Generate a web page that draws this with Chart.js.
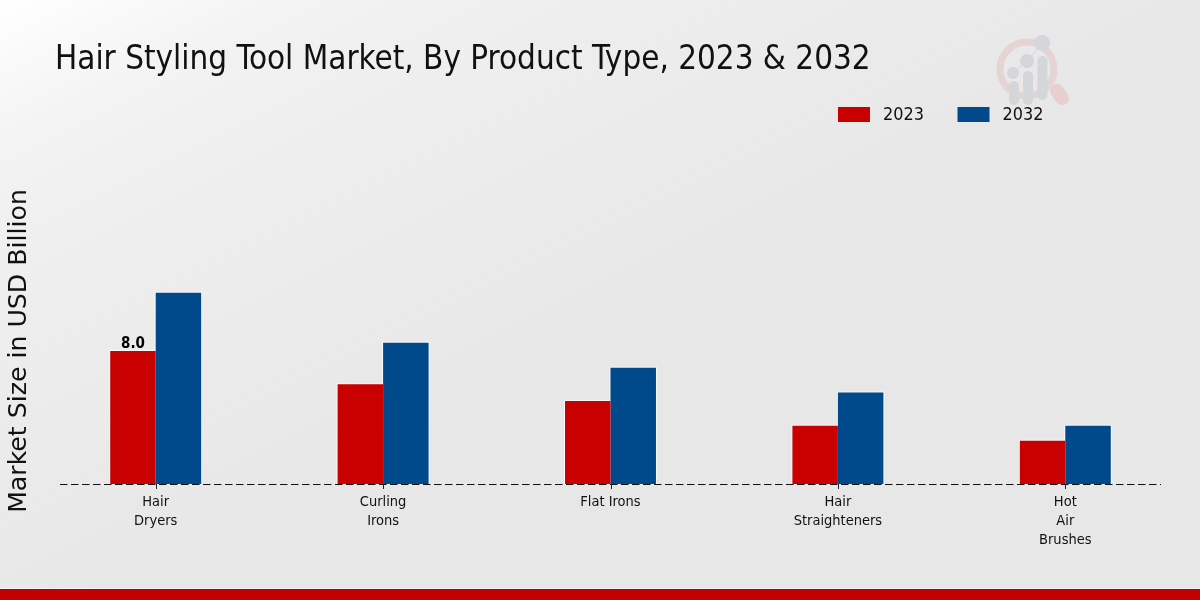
<!DOCTYPE html>
<html><head><meta charset="utf-8">
<style>html,body{margin:0;padding:0;background:#e8e8e8}canvas{display:block}</style>
<script src="https://cdn.jsdelivr.net/npm/chart.js@4"></script>
</head><body><canvas id="c" width="1200" height="600" style="width:1200px;height:600px"></canvas>
<script>
const categories = [["Hair","Dryers"],["Curling","Irons"],"Flat Irons",["Hair","Straighteners"],["Hot","Air","Brushes"]];
const values2023 = [8.0,6.0,5.0,3.5,2.6];
const values2032 = [11.5,8.5,7.0,5.5,3.5];
const titleText = "Hair Styling Tool Market, By Product Type, 2023 & 2032";
const yTitle = "Market Size in USD Billion";
const RED="#c80000", BLUE="#004a8c";
const COND='"DejaVu Sans Condensed","DejaVu Sans"';

const deco = {
  id:'deco',
  beforeDraw(ch){
    const {ctx,width:w,height:h}=ch;
    const g=ctx.createLinearGradient(0,0,260,520);
    g.addColorStop(0,'#ffffff');g.addColorStop(0.23,'#f3f3f3');g.addColorStop(0.46,'#eeeeee');g.addColorStop(1,'#e7e7e7');
    ctx.fillStyle=g;ctx.fillRect(0,0,w,h);
    ctx.fillStyle='#f4f4f4';ctx.fillRect(0,588,w,1);
    ctx.fillStyle='#c00000';ctx.fillRect(0,589,w,11);
    // logo
    ctx.save();ctx.lineCap='round';
    ctx.strokeStyle='#e4d4d4';ctx.lineWidth=7;
    ctx.beginPath();ctx.arc(1027,69,27,0,Math.PI*2);ctx.stroke();
    ctx.lineWidth=14;ctx.strokeStyle='#e8cfcf';
    ctx.beginPath();ctx.moveTo(1057,91);ctx.lineTo(1062,98);ctx.stroke();
    ctx.strokeStyle='#d4d6d9';ctx.lineWidth=10;
    [[1014,86,100],[1028,76,100],[1042.5,61,95]].forEach(([x,t,b])=>{ctx.beginPath();ctx.moveTo(x,t);ctx.lineTo(x,b);ctx.stroke();});
    ctx.fillStyle='#d4d6d9';ctx.lineWidth=1;
    ctx.beginPath();ctx.moveTo(1013,73);ctx.lineTo(1027,61);ctx.lineTo(1042,43);ctx.stroke();
    [[1013,73,6],[1027,61,7],[1042,43,8]].forEach(([x,y,r])=>{ctx.beginPath();ctx.arc(x,y,r,0,Math.PI*2);ctx.fill();});
    ctx.restore();
  },
  beforeDatasetsDraw(ch){
    const {ctx}=ch;
    ctx.save();ctx.strokeStyle='rgba(255,255,255,0.7)';ctx.lineWidth=1;
    ch.data.datasets.forEach((d,i)=>ch.getDatasetMeta(i).data.forEach(b=>{
      ctx.strokeRect(b.x-b.width/2-0.5,b.y-0.5,b.width+1,b.base-b.y+0.5);
    }));
    ctx.restore();
  },
  afterDatasetsDraw(ch){
    const {ctx,chartArea:a}=ch;
    ctx.save();
    ctx.strokeStyle='#111';ctx.lineWidth=1.2;ctx.setLineDash([7.5,3.5]);
    ctx.beginPath();ctx.moveTo(a.left+18,a.bottom+0.5);ctx.lineTo(a.right-18,a.bottom+0.5);ctx.stroke();
    ctx.setLineDash([]);
    // value label
    const bar=ch.getDatasetMeta(0).data[0];
    ctx.fillStyle='#000';ctx.font='bold 15px '+COND;ctx.textAlign='center';ctx.textBaseline='alphabetic';
    ctx.fillText(values2023[0].toFixed(1),bar.x,bar.y-3);
    // title
    ctx.fillStyle='#111';ctx.font='32.9px '+COND;ctx.textAlign='left';
    ctx.fillText(titleText,55,68.5);
    // legend
    ctx.font='17.9px '+COND;ctx.textBaseline='middle';
    ch.data.datasets.forEach((d,i)=>{
      const x=838+i*119.5;
      ctx.fillStyle=d.backgroundColor;ctx.fillRect(x,107,32,15);
      ctx.fillStyle='#111';ctx.fillText(d.label,x+45,115);
    });
    ctx.restore();
  }
};

new Chart(document.getElementById('c'),{
  type:'bar',
  data:{labels:categories,datasets:[
    {label:'2023',data:values2023,backgroundColor:RED,borderWidth:0},
    {label:'2032',data:values2032,backgroundColor:BLUE,borderWidth:0}
  ]},
  options:{
    responsive:false,animation:false,devicePixelRatio:1,
    layout:{padding:{top:218,right:21,left:0,bottom:0}},
    datasets:{bar:{categoryPercentage:0.4,barPercentage:1}},
    plugins:{legend:{display:false},title:{display:false},tooltip:{enabled:false}},
    scales:{
      x:{grid:{display:false,drawTicks:false},border:{display:false},
         afterFit(s){s.height=116;},
         ticks:{color:'#111',maxRotation:0,autoSkip:false,padding:9,font:{family:COND,size:14.5,lineHeight:'19px'}}},
      y:{min:0,max:16,grid:{display:false},border:{display:false},
         afterFit(s){s.width=42;},
         ticks:{display:false},
         title:{display:true,text:yTitle,color:'#111',padding:{top:4,bottom:0},font:{family:'"DejaVu Sans"',size:25.2}}}
    }
  },
  plugins:[deco,{id:'tk',afterDraw(ch){const {ctx,chartArea:a}=ch;const x=ch.scales.x;ctx.save();ctx.strokeStyle='#222';
    categories.forEach((c,i)=>{const p=Math.round(x.getPixelForTick(i))+0.5;ctx.beginPath();ctx.moveTo(p,a.bottom);ctx.lineTo(p,a.bottom+5);ctx.stroke();});ctx.restore();}}]
});
</script></body></html>
